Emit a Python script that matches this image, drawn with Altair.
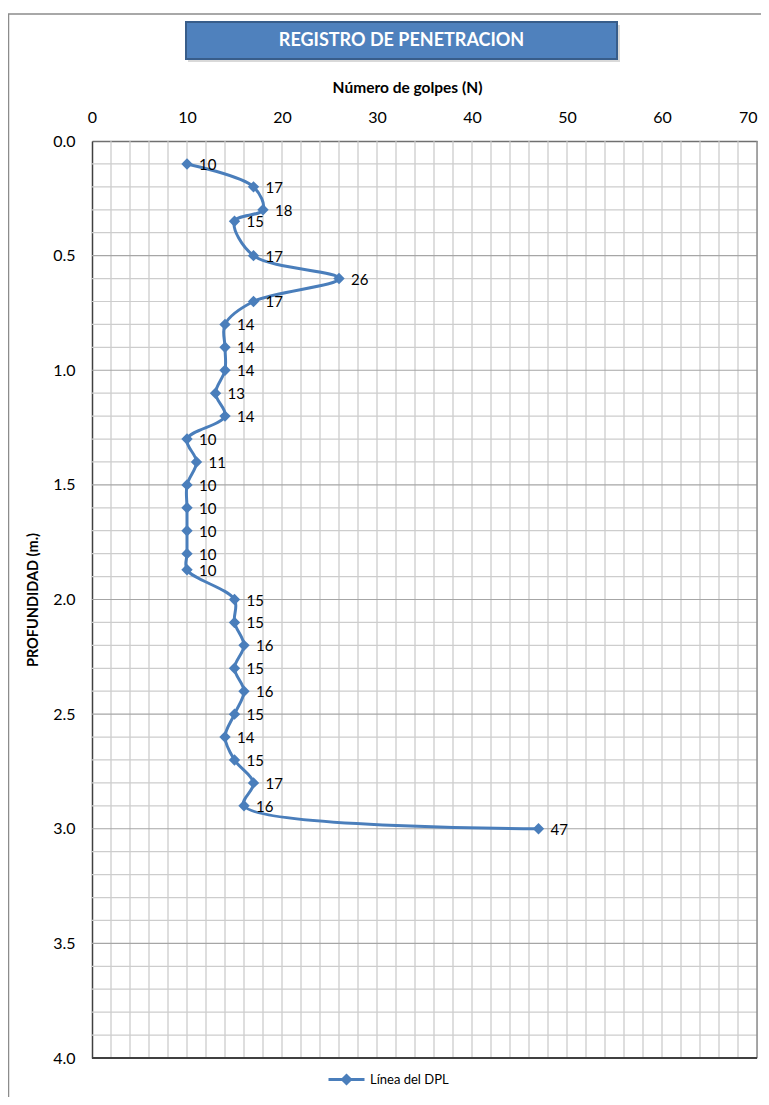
import altair as alt
import pandas as pd

# ---- data ----
depth = [0.1, 0.2, 0.3, 0.35, 0.5, 0.6, 0.7, 0.8, 0.9, 1.0, 1.1, 1.2, 1.3, 1.4, 1.5,
         1.6, 1.7, 1.8, 1.87, 2.0, 2.1, 2.2, 2.3, 2.4, 2.5, 2.6, 2.7, 2.8, 2.9, 3.0]
golpes = [10, 17, 18, 15, 17, 26, 17, 14, 14, 14, 13, 14, 10, 11, 10,
          10, 10, 10, 10, 15, 15, 16, 15, 16, 15, 14, 15, 17, 16, 47]
series_name = "Línea del DPL"
x_ticks = [0, 10, 20, 30, 40, 50, 60, 70]
y_ticks = [0.0, 0.5, 1.0, 1.5, 2.0, 2.5, 3.0, 3.5, 4.0]
title_text = "REGISTRO DE PENETRACION"
x_title = "Número de golpes (N)"
y_title = "PROFUNDIDAD (m.)"

# grid positions (style)
x_minor = list(range(2, 70, 2))
y_minor = [round(0.1 * i, 1) for i in range(1, 40) if i % 5 != 0]
y_major = [0.5, 1.0, 1.5, 2.0, 2.5, 3.0, 3.5]

df = pd.DataFrame({"depth": depth, "N": golpes, "serie": [series_name] * len(depth)})

FONT = "Lato"
BLUE = "#4A7EBB"
W, H = 665, 917

xs = alt.Scale(domain=[0, 70], nice=False, zero=False)
ys = alt.Scale(domain=[0, 4], reverse=True, nice=False, zero=False)

x_axis = alt.Axis(
    orient="top", values=x_ticks, title=x_title, grid=False, ticks=False,
    labelPadding=16, labelFontSize=16, labelColor="#000000", labelFont=FONT,
    labelAlign={"condition": {"test": "datum.value >= 70", "value": "right"}, "value": "center"},
    titleFont=FONT, titleFontSize=15.5, titleFontWeight="bold", titleColor="#000000",
    titleX=315, titleY=-54, titleBaseline="middle", titleAnchor="start", titleAlign="center",
    domainColor="#707070", domainWidth=1.5, labelFlush=False, labelOverlap=False, labelBound=False
)
y_axis = alt.Axis(
    orient="left", values=y_ticks, format=".1f", title=y_title, grid=False, ticks=False,
    labelPadding=17, labelFontSize=16, labelColor="#000000", labelFont=FONT,
    titleFont=FONT, titleFontSize=14.5, titleFontWeight="bold", titleColor="#000000",
    titleX=-59, titleY=H / 2, titleBaseline="middle", titleAlign="center", titleAngle=-90,
    domainColor="#404040", domainWidth=1.5, labelFlush=False, labelOverlap=False
)


def X(field):
    return alt.X(field, scale=xs, axis=x_axis)


def Y(field):
    return alt.Y(field, scale=ys, axis=y_axis)


one = alt.Data(values=[{}])

# outer chart border
border = alt.Chart(one).mark_rect(fillOpacity=0, stroke="#8C8C8C", strokeWidth=1.5).encode(
    x=alt.value(-83.5), x2=alt.value(W + 40), y=alt.value(-127), y2=alt.value(H + 60)
)

# title box
tbox_shadow = alt.Chart(one).mark_rect(fill="#BFBFBF", opacity=0.6).encode(
    x=alt.value(96), x2=alt.value(528), y=alt.value(-116), y2=alt.value(-79)
)
tbox = alt.Chart(one).mark_rect(fill="#4F81BD", stroke="#385D8A", strokeWidth=2).encode(
    x=alt.value(94), x2=alt.value(525), y=alt.value(-119), y2=alt.value(-82)
)
ttext = alt.Chart(one).mark_text(
    text=title_text, color="white", font=FONT, fontWeight="bold", fontSize=18,
    align="center", baseline="middle"
).encode(x=alt.value(309.5), y=alt.value(-100))

# grid
vgrid = alt.Chart(pd.DataFrame({"N": x_minor})).mark_rule(color="#C8C8C8", strokeWidth=1.2).encode(
    x=X("N:Q")
)
hgrid_minor = alt.Chart(pd.DataFrame({"depth": y_minor})).mark_rule(color="#CDCDCD", strokeWidth=1.2).encode(
    y=Y("depth:Q")
)
hgrid_major = alt.Chart(pd.DataFrame({"depth": y_major})).mark_rule(color="#A6A6A6", strokeWidth=1.2).encode(
    y=Y("depth:Q")
)
right_edge = alt.Chart(pd.DataFrame({"N": [70]})).mark_rule(color="#8C8C8C", strokeWidth=1.5).encode(
    x=X("N:Q")
)
bottom_edge = alt.Chart(pd.DataFrame({"depth": [4.0]})).mark_rule(color="#404040", strokeWidth=2).encode(
    y=Y("depth:Q")
)

legend_path = "M-1,0L-0.22,0M0.22,0L1,0M-0.22,0L0,-0.22L0.22,0L0,0.22Z"

line = alt.Chart(df).mark_line(interpolate="catmull-rom", strokeWidth=3).encode(
    x=X("N:Q"),
    y=Y("depth:Q"),
    order=alt.Order("depth:Q"),
    color=alt.Color("serie:N", scale=alt.Scale(range=[BLUE]),
                    legend=alt.Legend(orient="none", legendX=235, legendY=919, title=None,
                                      symbolType=legend_path, symbolSize=1296,
                                      symbolStrokeWidth=3, symbolFillColor=BLUE,
                                      labelFont=FONT, labelFontSize=13, labelColor="#000000",
                                      labelOffset=4, padding=0))
)
points = alt.Chart(df).mark_point(shape="diamond", filled=True, size=130, color=BLUE, opacity=1).encode(
    x=X("N:Q"),
    y=Y("depth:Q"),
)
labels = alt.Chart(df).mark_text(align="left", baseline="middle", dx=12, dy=1,
                                 font=FONT, fontSize=15, color="#000000").encode(
    x=X("N:Q"),
    y=Y("depth:Q"),
    text="N:Q",
)

chart = alt.layer(
    border, tbox_shadow, tbox, ttext, vgrid, hgrid_minor, hgrid_major,
    right_edge, bottom_edge, line, points, labels
).properties(
    width=W, height=H,
    autosize=alt.AutoSizeParams(type="none"),
    padding={"left": 84, "top": 133, "right": 4, "bottom": 39},
).configure_view(stroke=None).configure(font=FONT, background="white")

chart.save("out.html", embed_options={"renderer": "svg", "actions": False})
